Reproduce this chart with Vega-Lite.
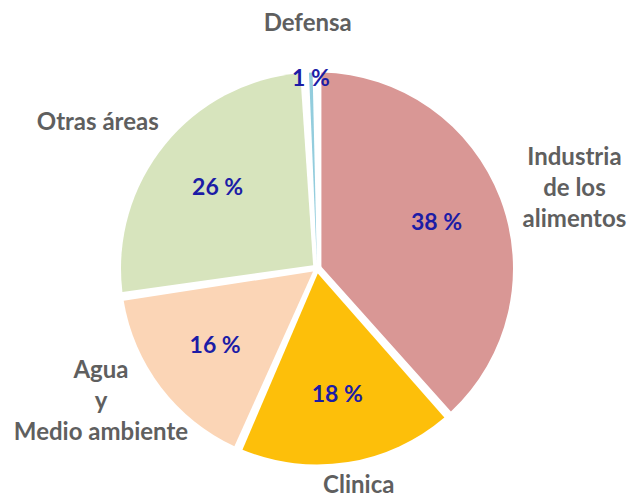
{
  "$schema": "https://vega.github.io/schema/vega-lite/v6.json",
  "width": 634,
  "height": 500,
  "autosize": {"type": "fit", "contains": "padding"},
  "padding": {"top": 30, "bottom": 0, "left": 0, "right": 0},
  "background": "white",
  "view": {"stroke": null},
  "data": {
    "values": [
      {"idx": 1, "area": "Industria de los alimentos", "label": "Industria\nde los\nalimentos", "pct": 38},
      {"idx": 2, "area": "Clinica", "label": "Clinica", "pct": 18},
      {"idx": 3, "area": "Agua y Medio ambiente", "label": "Agua\ny\nMedio ambiente", "pct": 16},
      {"idx": 4, "area": "Otras áreas", "label": "Otras áreas", "pct": 26},
      {"idx": 5, "area": "Defensa", "label": "Defensa", "pct": 1}
    ]
  },
  "encoding": {
    "theta": {"field": "pct", "type": "quantitative", "stack": true},
    "order": {"field": "idx", "type": "quantitative"}
  },
  "layer": [
    {
      "mark": {"type": "arc", "outerRadius": 196, "innerRadius": 5, "padAngle": 0.045},
      "encoding": {
        "color": {
          "field": "area",
          "type": "nominal",
          "sort": ["Industria de los alimentos", "Clinica", "Agua y Medio ambiente", "Otras áreas", "Defensa"],
          "scale": {
            "domain": ["Industria de los alimentos", "Clinica", "Agua y Medio ambiente", "Otras áreas", "Defensa"],
            "range": ["#D99795", "#FDBF0A", "#FBD5B6", "#D7E4BD", "#93CDDD"]
          },
          "legend": null
        }
      }
    },
    {
      "mark": {"type": "text", "radius": {"expr": "datum.pct < 5 ? 190 : 128"}, "font": "Lato", "fontWeight": "bold", "fontSize": 23, "fill": "#1c1ca6"},
      "transform": [{"calculate": "datum.pct + ' %'", "as": "pctlabel"}],
      "encoding": {
        "text": {"field": "pctlabel", "type": "nominal"}
      }
    },
    {
      "mark": {
        "type": "text",
        "thetaOffset": {"expr": "0.1 * sin(2 * PI * (datum.pct_start + datum.pct_end) / 99)"},
        "radius": {"expr": "1 / sqrt(pow(sin(PI*(datum.pct_start+datum.pct_end)/99 + 0.1*sin(2*PI*(datum.pct_start+datum.pct_end)/99))/272, 2) + pow(cos(PI*(datum.pct_start+datum.pct_end)/99 + 0.1*sin(2*PI*(datum.pct_start+datum.pct_end)/99))/(cos(PI*(datum.pct_start+datum.pct_end)/99) > 0 ? 245 : 220), 2))"},
        "dy": {"expr": "-15.5 * (length(split(datum.label, '\\n')) - 1)"},
        "font": "Lato",
        "fontWeight": "bold",
        "fontSize": 24,
        "fill": "#5f5f5f",
        "lineBreak": "\n",
        "lineHeight": 31
      },
      "encoding": {
        "text": {"field": "label", "type": "nominal"}
      }
    }
  ]
}
